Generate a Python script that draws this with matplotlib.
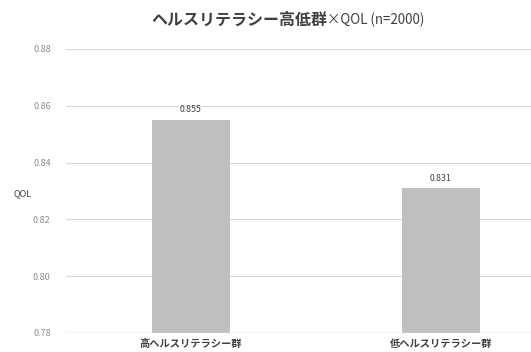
import matplotlib
matplotlib.use("Agg")
import matplotlib.pyplot as plt

plt.rcParams['font.family'] = ['Noto Sans CJK JP', 'DejaVu Sans']

categories = ["高ヘルスリテラシー群", "低ヘルスリテラシー群"]
values = [0.855, 0.831]
yticks = [0.78, 0.80, 0.82, 0.84, 0.86, 0.88]

W, H = 531, 352
fig = plt.figure(figsize=(W/100, H/100), dpi=100)
left, right = 66, 531
top, bottom = 49, 333
ax = fig.add_axes([left/W, (H-bottom)/H, (right-left)/W, (bottom-top)/H])

x = list(range(len(categories)))
bars = ax.bar(x, values, width=0.312, color="#bfbfbf", zorder=3)
ax.set_ylim(0.78, 0.88)
ax.set_xlim(-0.5, 1.36)
ax.set_yticks(yticks)
ax.set_yticklabels([f"{v:.2f}" for v in yticks], color="#8c8c8c", fontsize=6.5)
ax.yaxis.grid(True, color="#d9d9d9", linewidth=0.8, zorder=0)
ax.tick_params(axis='y', length=0, pad=11)
ax.tick_params(axis='x', length=0, pad=4)
ax.set_xticks(x)
ax.set_xticklabels(categories, fontsize=7.4, fontweight='bold', color="#404040")
for s in ax.spines.values():
    s.set_visible(False)
ax.axhline(0.78, color="#d9d9d9", linewidth=1.0, zorder=4)

for b, v in zip(bars, values):
    ax.annotate(f"{v:.3f}", (b.get_x() + b.get_width()/2, v), xytext=(0, 4),
                textcoords="offset points", ha='center', va='bottom',
                fontsize=6.3, color="#404040")

fig.text(13/W, 1 - 194/H, "QOL", fontsize=6.5, color="#404040", ha='left', va='center')

fig.text(327/W, 1 - 20/H, "ヘルスリテラシー高低群", fontsize=11.5, fontweight='bold',
         color="#404040", ha='right', va='center')
fig.text(327/W, 1 - 20/H, "×QOL (n=2000)", fontsize=9.6,
         color="#404040", ha='left', va='center')

fig.savefig("out.png", dpi=100)
